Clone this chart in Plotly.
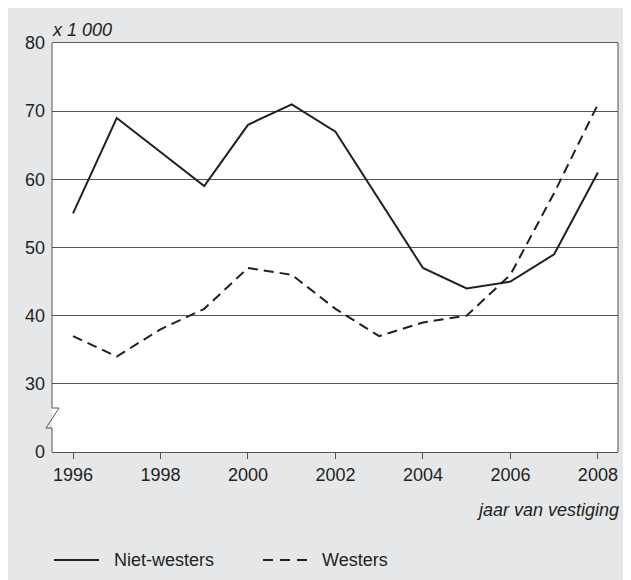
import plotly.graph_objects as go

# ---- data ----
years = [1996, 1997, 1998, 1999, 2000, 2001, 2002, 2003, 2004, 2005, 2006, 2007, 2008]
niet_westers = [55, 69, 64, 59, 68, 71, 67, 57, 47, 44, 45, 49, 61]
westers = [37, 34, 38, 41, 47, 46, 41, 37, 39, 40, 46, 58, 71]
x_tick_vals = [1996, 1998, 2000, 2002, 2004, 2006, 2008]
y_tick_pos = [20, 30, 40, 50, 60, 70, 80]   # broken axis: position 20 shows "0"
y_tick_labels = ["0", "30", "40", "50", "60", "70", "80"]
series_names = ["Niet-westers", "Westers"]

# ---- layout geometry (page body has an 8px margin) ----
OFF = 8
W, H = 623, 572
L, R, T, B = 44, 13, 35, 128
PW, PH = W - L - R, H - T - B
BG = "#e6e7e9"
INK = "#231f20"
GRID = "#555555"
FONT = "Liberation Sans, Arial, sans-serif"


def px(x):
    # screen x -> paper fraction
    return (x - OFF - L) / PW


def py(y):
    # screen y -> paper fraction
    return (H - B - (y - OFF)) / PH


fig = go.Figure()
fig.add_trace(go.Scatter(x=years, y=niet_westers, mode="lines", name=series_names[0],
                         line=dict(color=INK, width=2)))
fig.add_trace(go.Scatter(x=years, y=westers, mode="lines", name=series_names[1],
                         line=dict(color=INK, width=2, dash="10px,6px")))

shapes = []
# frame: right side
shapes.append(dict(type="line", xref="paper", yref="paper", x0=1, x1=1, y0=0, y1=1,
                   line=dict(color=GRID, width=1)))
# frame: left side with axis break
path = "M {},{} L {},{} L {},{} L {},{} L {},{} L {},{}".format(
    px(52), py(43), px(52), py(408), px(59), py(408), px(46), py(428), px(52), py(428), px(52), py(452))
shapes.append(dict(type="path", xref="paper", yref="paper", path=path,
                   line=dict(color=GRID, width=1)))
# legend samples
shapes.append(dict(type="line", xref="paper", yref="paper", x0=px(54), x1=px(99), y0=py(560), y1=py(560),
                   line=dict(color=INK, width=2)))
shapes.append(dict(type="line", xref="paper", yref="paper", x0=px(263), x1=px(308), y0=py(560), y1=py(560),
                   line=dict(color=INK, width=2, dash="10px,7px")))

annotations = [
    dict(text="<i>x 1 000</i>", xref="paper", yref="paper", x=px(50), y=py(30), xanchor="left",
         yanchor="middle", showarrow=False, font=dict(size=18, color=INK, family=FONT)),
    dict(text="<i>jaar van vestiging</i>", xref="paper", yref="paper", x=px(621), y=py(510),
         xanchor="right", yanchor="middle", showarrow=False, font=dict(size=18, color=INK, family=FONT)),
    dict(text=series_names[0], xref="paper", yref="paper", x=px(112), y=py(560), xanchor="left",
         yanchor="middle", showarrow=False, font=dict(size=18, color=INK, family=FONT)),
    dict(text=series_names[1], xref="paper", yref="paper", x=px(320), y=py(560), xanchor="left",
         yanchor="middle", showarrow=False, font=dict(size=18, color=INK, family=FONT)),
]

fig.update_layout(
    width=W, height=H,
    margin=dict(l=L, r=R, t=T, b=B, pad=0),
    paper_bgcolor=BG, plot_bgcolor="white",
    showlegend=False,
    font=dict(family=FONT, size=18, color=INK),
    shapes=shapes, annotations=annotations,
    xaxis=dict(range=[1995.52, 2008.46], tickvals=x_tick_vals, ticks="outside", ticklen=6,
               tickcolor=GRID, tickwidth=1, showgrid=False, zeroline=False,
               showline=True, linecolor=GRID, linewidth=1, mirror=True,
               tickfont=dict(size=18, color=INK), fixedrange=True),
    yaxis=dict(range=[20, 80], tickvals=y_tick_pos, ticktext=y_tick_labels, ticks="",
               showgrid=True, gridcolor=GRID, gridwidth=1, zeroline=False, showline=False,
               tickfont=dict(size=18, color=INK), ticklabelstandoff=6, fixedrange=True),
)

fig.write_html("out.html")
